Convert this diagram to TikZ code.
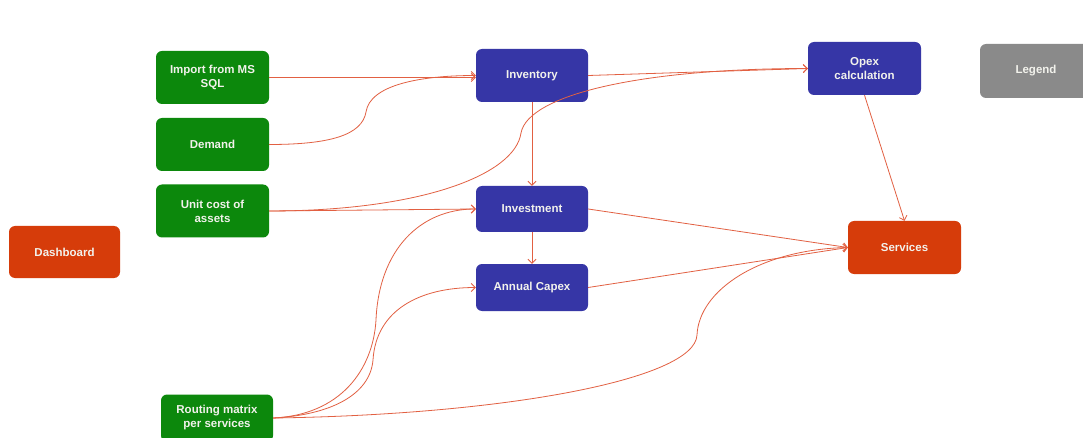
\documentclass[tikz,border=0pt]{standalone}
\usepackage{fontspec}
\setmainfont{Liberation Sans}
\usetikzlibrary{arrows.meta}
\definecolor{bgreen}{RGB}{12,136,12}
\definecolor{bblue}{RGB}{54,54,166}
\definecolor{bred}{RGB}{214,60,10}
\definecolor{bgray}{RGB}{138,138,138}
\definecolor{wire}{RGB}{226,96,66}
\definecolor{txt}{RGB}{242,242,236}
\begin{document}
\begin{tikzpicture}[x=1pt,y=-1pt,
  box/.style={rounded corners=6pt, draw=none, text=txt, font=\fontsize{11.5}{14}\selectfont\bfseries, align=center, inner sep=0pt, minimum width=113pt, minimum height=53pt},
  gbox/.style={box, fill=bgreen},
  bbox/.style={box, fill=bblue},
  rbox/.style={box, fill=bred},
  graybox/.style={box, fill=bgray},
  wirestyle/.style={draw=wire, line width=0.8pt, -{Straight Barb[length=4pt,width=8pt]}}
]
\useasboundingbox (0,0) rectangle (1083,438);
\fill[white] (0,0) rectangle (1083,438);

\node[gbox] (imp) at (212.5,77.5) {Import from MS\\SQL};
\node[gbox] (dem) at (212.5,144.5) {Demand};
\node[gbox] (unit) at (212.5,211) {Unit cost of\\assets};
\node[gbox, minimum width=112pt, minimum height=47pt] (rout) at (217,418) {Routing matrix\\per services};
\node[rbox, minimum width=111pt, minimum height=52pt] (dash) at (64.5,252) {Dashboard};

\node[bbox, minimum width=112pt] (inv) at (532,75.5) {Inventory};
\node[bbox, minimum width=112pt, minimum height=46pt] (invest) at (532,209) {Investment};
\node[bbox, minimum width=112pt, minimum height=47pt] (capex) at (532,287.5) {Annual Capex};
\node[bbox] (opex) at (864.5,68.5) {Opex\\calculation};
\node[rbox] (serv) at (904.5,247.5) {Services};
\node[graybox, minimum width=112pt, minimum height=54pt] (leg) at (1036,71) {Legend};

% waypoints of the curved connectors
\coordinate (wdem) at (366,112);
\coordinate (wunit) at (521,133);
\coordinate (wrinv) at (376,320);
\coordinate (wrcap) at (373,360);
\coordinate (wrserv) at (697,335);

\draw[wirestyle] (imp.east) -- (inv.west|-imp.east);
\draw[wirestyle] (dem.east) .. controls +(61,0) and +(-4,23) .. (wdem)
                            .. controls +(4,-27) and +(-56,0) .. (inv.west);
\draw[wirestyle] (unit.east) -- (invest.west);
\draw[wirestyle] (unit.east) .. controls +(151,0) and +(-6,42) .. (wunit)
                             .. controls +(7,-38) and +(-168,0) .. (opex.west);
\draw[wirestyle] (inv.east) -- (opex.west);
\draw[wirestyle] (inv.south) -- (invest.north);
\draw[wirestyle] (invest.south) -- (capex.north);
\draw[wirestyle] (invest.east) -- (serv.west);
\draw[wirestyle] (capex.east) -- (serv.west);
\draw[wirestyle] (opex.south) -- (serv.north);
\draw[wirestyle] (rout.east) .. controls +(67,-3) and +(-3,50) .. (wrinv)
                             .. controls +(3,-70) and +(-56,0) .. (invest.west);
\draw[wirestyle] (rout.east) .. controls +(57,-3) and +(-3,35) .. (wrcap)
                             .. controls +(3,-50) and +(-56,0) .. (capex.west);
\draw[wirestyle] (rout.east) .. controls +(227,-3) and +(-2,45) .. (wrserv)
                             .. controls +(2,-45) and +(-88,2) .. (serv.west);
\end{tikzpicture}
\end{document}
